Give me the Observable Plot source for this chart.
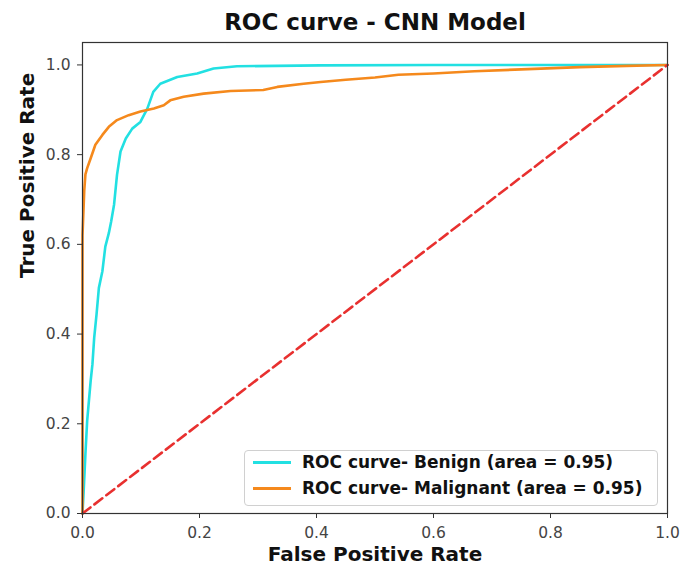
<!DOCTYPE html>
<html>
<head>
<meta charset="utf-8">
<script src="https://cdn.jsdelivr.net/npm/d3@7"></script>
<script src="https://cdn.jsdelivr.net/npm/@observablehq/plot@0.6"></script>
<style>
  body { margin: 0; background: white; font-family: "DejaVu Sans", sans-serif; }
  #wrap { position: relative; width: 680px; height: 571px; }
  #legend { position: absolute; left: 244px; top: 450px; width: 414px; height: 56px; box-sizing: border-box;
    border: 1px solid #d0d0d0; border-radius: 4px; background: rgba(255,255,255,0.85); }
  .row { position: absolute; left: 0; height: 20px; line-height: 20px; font-size: 17px; font-weight: bold; color: #111; white-space: nowrap; }
  .sw { position: absolute; left: 8px; top: 9px; width: 38px; height: 3px; }
  .lb { position: absolute; left: 57px; top: 0; }
</style>
</head>
<body>
<div id="wrap"><div id="legend"></div></div>
<script>
const title = "ROC curve - CNN Model";
const xLabel = "False Positive Rate";
const yLabel = "True Positive Rate";
const seriesNames = ["ROC curve- Benign (area = 0.95)", "ROC curve- Malignant (area = 0.95)"];
const seriesColors = ["#22e0e2", "#f5891c"];
const tickValues = [0, 0.2, 0.4, 0.6, 0.8, 1.0];

const benignFpr = [0, 0.002, 0.005, 0.008, 0.014, 0.017, 0.02, 0.024, 0.028, 0.034, 0.039, 0.045, 0.049, 0.054, 0.059, 0.065, 0.074, 0.085, 0.099, 0.111, 0.121, 0.133, 0.162, 0.196, 0.224, 0.264, 0.407, 0.6, 1.0];
const benignTpr = [0, 0.05, 0.133, 0.207, 0.296, 0.333, 0.392, 0.444, 0.503, 0.54, 0.595, 0.625, 0.651, 0.689, 0.755, 0.807, 0.836, 0.858, 0.873, 0.903, 0.94, 0.958, 0.973, 0.981, 0.992, 0.997, 0.999, 1.0, 1.0];

const malignantFpr = [0, 0, 0, 0.003, 0.005, 0.008, 0.014, 0.022, 0.034, 0.045, 0.059, 0.079, 0.099, 0.122, 0.139, 0.15, 0.173, 0.207, 0.253, 0.309, 0.333, 0.378, 0.407, 0.45, 0.5, 0.54, 0.6, 0.67, 0.75, 0.85, 0.93, 1.0];
const malignantTpr = [0, 0.45, 0.62, 0.72, 0.756, 0.77, 0.792, 0.822, 0.844, 0.862, 0.877, 0.888, 0.896, 0.903, 0.91, 0.921, 0.929, 0.936, 0.942, 0.944, 0.951, 0.958, 0.962, 0.967, 0.972, 0.978, 0.981, 0.986, 0.99, 0.995, 0.998, 1.0];

const chanceFpr = [0, 1];
const chanceTpr = [0, 1];

const benign = benignFpr.map((x, i) => ({fpr: x, tpr: benignTpr[i]}));
const malignant = malignantFpr.map((x, i) => ({fpr: x, tpr: malignantTpr[i]}));
const chance = chanceFpr.map((x, i) => ({fpr: x, tpr: chanceTpr[i]}));

const chart = Plot.plot({
  width: 680,
  height: 571,
  marginTop: 42,
  marginBottom: 58,
  marginLeft: 82,
  marginRight: 13,
  style: {fontFamily: "DejaVu Sans", background: "white", overflow: "visible"},
  x: {domain: [0, 1]},
  y: {domain: [0, 1.05]},
  marks: [
    Plot.line(benign, {x: "fpr", y: "tpr", stroke: seriesColors[0], strokeWidth: 2.6}),
    Plot.line(malignant, {x: "fpr", y: "tpr", stroke: seriesColors[1], strokeWidth: 2.6}),
    Plot.line(chance, {x: "fpr", y: "tpr", stroke: "#e8302f", strokeWidth: 2.6, strokeDasharray: "10,5"}),
    Plot.frame({stroke: "#333", strokeWidth: 1.2}),
    Plot.axisX({ticks: tickValues, tickFormat: d3.format(".1f"), tickSize: 5, tickPadding: 8, fontSize: 15.5, fill: "#444", stroke: "#333", label: null}),
    Plot.axisY({ticks: tickValues, tickFormat: d3.format(".1f"), tickSize: 5, tickPadding: 7, fontSize: 15.5, fill: "#444", stroke: "#333", label: null}),
    Plot.text([title], {text: d => d, frameAnchor: "top", dy: -28.4, fontSize: 23, fontWeight: "bold", fill: "#111"}),
    Plot.text([xLabel], {text: d => d, frameAnchor: "bottom", dy: 47.6, fontSize: 20, fontWeight: "bold", fill: "#111"}),
    Plot.text([yLabel], {text: d => d, frameAnchor: "left", rotate: -90, dx: -55.4, fontSize: 20, fontWeight: "bold", fill: "#111"})
  ]
});

const wrap = document.getElementById("wrap");
wrap.insertBefore(chart, wrap.firstChild);

const legend = document.getElementById("legend");
seriesNames.forEach((name, i) => {
  const row = document.createElement("div");
  row.className = "row";
  row.style.top = (1 + i * 25.5) + "px";
  row.style.width = "100%";
  const sw = document.createElement("div");
  sw.className = "sw";
  sw.style.background = seriesColors[i];
  const lb = document.createElement("span");
  lb.className = "lb";
  lb.textContent = name;
  row.appendChild(sw);
  row.appendChild(lb);
  legend.appendChild(row);
});
</script>
</body>
</html>
